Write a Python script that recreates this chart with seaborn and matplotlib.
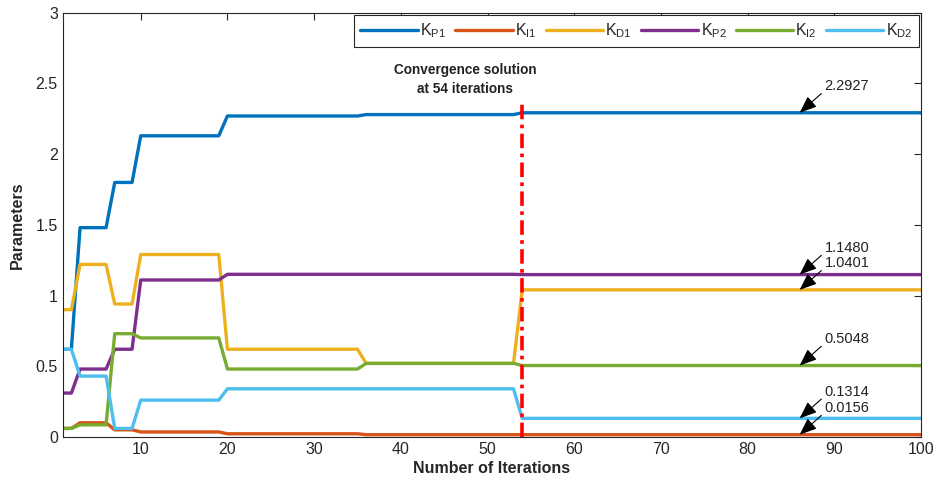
import matplotlib.pyplot as plt
import seaborn as sns
import numpy as np
import pandas as pd

# iterations 1..100, every series is a staircase: (run length, value)
iterations = np.arange(1, 101)

kp1_runs = [(2, 0.62), (4, 1.48), (3, 1.80), (10, 2.13), (16, 2.27), (18, 2.28), (47, 2.2927)]
ki1_runs = [(2, 0.06), (4, 0.10), (3, 0.05), (10, 0.035), (16, 0.022), (65, 0.0156)]
kd1_runs = [(2, 0.90), (4, 1.22), (3, 0.94), (10, 1.29), (16, 0.62), (18, 0.52), (47, 1.0401)]
kp2_runs = [(2, 0.31), (4, 0.48), (3, 0.62), (10, 1.11), (34, 1.15), (47, 1.1480)]
ki2_runs = [(2, 0.06), (4, 0.085), (3, 0.73), (10, 0.70), (16, 0.48), (18, 0.52), (47, 0.5048)]
kd2_runs = [(2, 0.62), (4, 0.43), (3, 0.06), (10, 0.26), (34, 0.34), (47, 0.1314)]

series_names = ["KP1", "KI1", "KD1", "KP2", "KI2", "KD2"]
legend_labels = [r"$\mathregular{K_{P1}}$", r"$\mathregular{K_{I1}}$", r"$\mathregular{K_{D1}}$",
                 r"$\mathregular{K_{P2}}$", r"$\mathregular{K_{I2}}$", r"$\mathregular{K_{D2}}$"]
colors = ["#0072BD", "#D95319", "#EDB120", "#7E2F8E", "#77AC30", "#4DBEEE"]

final_labels = ["2.2927", "0.0156", "1.0401", "1.1480", "0.5048", "0.1314"]
final_values = [2.2927, 0.0156, 1.0401, 1.1480, 0.5048, 0.1314]
arrow_x = 86
convergence_iter = 54
convergence_top = 2.38


def expand(runs):
    vals = []
    for n, v in runs:
        vals += [v] * n
    return vals


all_runs = [kp1_runs, ki1_runs, kd1_runs, kp2_runs, ki2_runs, kd2_runs]
frames = []
for name, runs in zip(series_names, all_runs):
    frames.append(pd.DataFrame({"Iteration": iterations, "Value": expand(runs), "Parameter": name}))
df = pd.concat(frames, ignore_index=True)

sns.set_style("white")
plt.rcParams['font.family'] = ['Liberation Sans', 'DejaVu Sans']
plt.rcParams['mathtext.fontset'] = 'custom'
plt.rcParams['mathtext.rm'] = 'Liberation Sans'

fig = plt.figure(figsize=(9.36, 4.92), dpi=100)
ax = fig.add_axes([0.067, 0.112, 0.917, 0.862])

sns.lineplot(data=df, x="Iteration", y="Value", hue="Parameter", palette=colors,
             linewidth=2.4, ax=ax, legend=False)

# convergence marker
ax.vlines(convergence_iter, 0, convergence_top, color="#FF0000",
          linestyle=(0, (4, 1.5, 1, 1.5)), linewidth=2.6, zorder=5)
ax.text(47.4, 2.53, "Convergence solution\nat 54 iterations", ha="center", va="center",
        fontsize=9.8, fontweight="bold", color="#222222", linespacing=1.45)

# final value arrows
for lab, val in zip(final_labels, final_values):
    ax.annotate(lab, xy=(arrow_x, val), xytext=(18, 19), textcoords="offset points",
                ha="left", va="center", fontsize=10.5, color="#222222",
                arrowprops=dict(arrowstyle="-|>,head_length=1.0,head_width=0.4", color="black",
                                lw=0.8, relpos=(0, 0.2), shrinkA=0, shrinkB=0))

ax.set_xlim(1, 100)
ax.set_ylim(0, 3)
ax.set_xticks(np.arange(10, 101, 10))
ax.set_yticks(np.arange(0, 3.01, 0.5))
ax.set_yticklabels(["0", "0.5", "1", "1.5", "2", "2.5", "3"])
ax.tick_params(direction="in", top=True, right=True, length=5, width=0.8,
               labelsize=11.5, colors="#262626")
for s in ax.spines.values():
    s.set_color("#262626")
    s.set_linewidth(0.8)

ax.set_xlabel("Number of Iterations", fontsize=11.5, fontweight="bold", labelpad=3)
ax.set_ylabel("Parameters", fontsize=11.5, fontweight="bold", labelpad=8)

handles = [plt.Line2D([], [], color=c, linewidth=2.4) for c in colors]
leg = ax.legend(handles, legend_labels, loc="upper right", ncol=6, bbox_to_anchor=(1.0, 1.0),
                borderaxespad=0.15, fancybox=False, edgecolor="#262626", framealpha=1,
                handlelength=3.6, handletextpad=0.15, columnspacing=0.55, fontsize=11.5)
leg.get_frame().set_linewidth(0.8)

fig.savefig("out.png", dpi=100)
